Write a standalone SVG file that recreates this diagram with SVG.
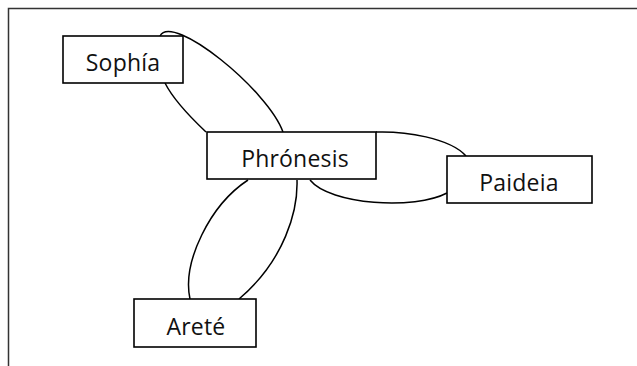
<svg xmlns="http://www.w3.org/2000/svg" width="637" height="366" viewBox="0 0 637 366">
<style>
.box{fill:#fff;stroke:#000;stroke-width:1.6}
.lbl{font-family:"Open Sans","DejaVu Sans",sans-serif;font-size:23px;fill:#111;text-anchor:middle;letter-spacing:0.2px}
.edge{fill:none;stroke:#000;stroke-width:1.5}
</style>
<rect x="0" y="0" width="637" height="366" fill="#fff"/>
<path d="M8.5,366 V8.5 H637" fill="none" stroke="#333" stroke-width="1.5"/>
<g id="connectors">
<path class="edge" d="M160,36 C172,12 268,90 283,132"/>
<path class="edge" d="M165,83 C172,97 188,115 206,132"/>
<path class="edge" d="M376,132 C405,131 450,138 466,156"/>
<path class="edge" d="M310,180 C330,205 415,210 447,193"/>
<path class="edge" d="M248,180 C210,205 182,262 190,299"/>
<path class="edge" d="M297,180 C298,210 285,260 239,299"/>
</g>
<g id="sophia">
<rect class="box" x="63" y="36" width="120" height="47"/>
<text class="lbl" x="123" y="71">Sophía</text>
</g>
<g id="phronesis">
<rect class="box" x="207" y="132" width="169" height="47"/>
<text class="lbl" x="295" y="167">Phrónesis</text>
</g>
<g id="paideia">
<rect class="box" x="447" y="156" width="145" height="47"/>
<text class="lbl" x="519" y="191">Paideia</text>
</g>
<g id="arete">
<rect class="box" x="134" y="299" width="122" height="48"/>
<text class="lbl" x="196" y="335">Areté</text>
</g>
</svg>
